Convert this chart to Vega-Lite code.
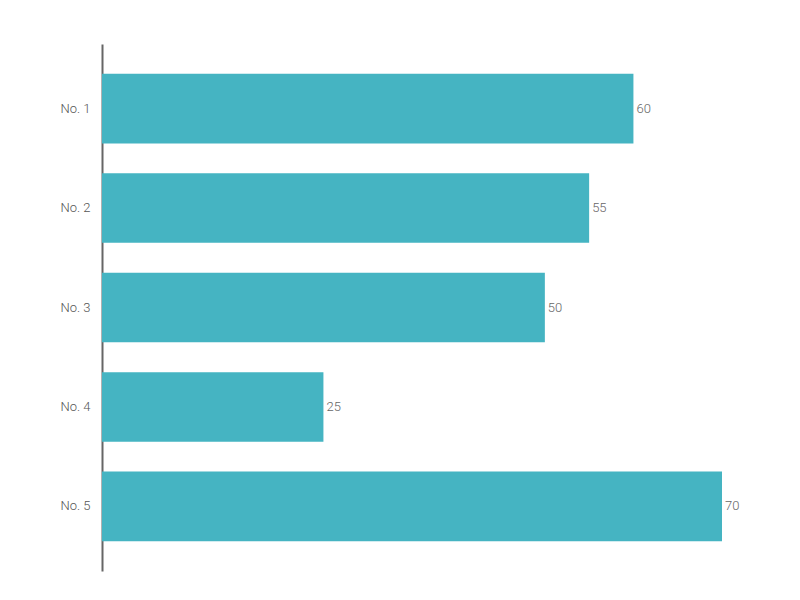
{
  "$schema": "https://vega.github.io/schema/vega-lite/v6.json",
  "autosize": {"type": "none"},
  "padding": {"left": 102, "top": 44, "right": 78, "bottom": 29},
  "width": 620,
  "height": 527,
  "background": "white",
  "data": {
    "values": [
      {"item": "No. 1", "value": 60},
      {"item": "No. 2", "value": 55},
      {"item": "No. 3", "value": 50},
      {"item": "No. 4", "value": 25},
      {"item": "No. 5", "value": 70}
    ]
  },
  "encoding": {
    "y": {
      "field": "item",
      "type": "nominal",
      "sort": null,
      "title": null,
      "scale": {"paddingInner": 0.3, "paddingOuter": 0.3},
      "axis": {
        "domainColor": "#666666",
        "domainWidth": 2,
        "ticks": false,
        "labelPadding": 12,
        "labelColor": "#555555",
        "labelFont": "Roboto",
        "labelFontSize": 13,
        "labelFontWeight": 300,
        "grid": false
      }
    },
    "x": {
      "field": "value",
      "type": "quantitative",
      "scale": {"domain": [0, 70], "nice": false},
      "axis": null
    }
  },
  "layer": [
    {"mark": {"type": "bar", "color": "#45B4C2"}},
    {
      "mark": {
        "type": "text",
        "align": "left",
        "baseline": "middle",
        "dx": 3,
        "font": "Roboto",
        "fontSize": 13,
        "fontWeight": 300,
        "fill": "#666666"
      },
      "encoding": {
        "text": {"field": "value", "type": "quantitative"}
      }
    }
  ],
  "config": {
    "view": {"stroke": null}
  }
}
